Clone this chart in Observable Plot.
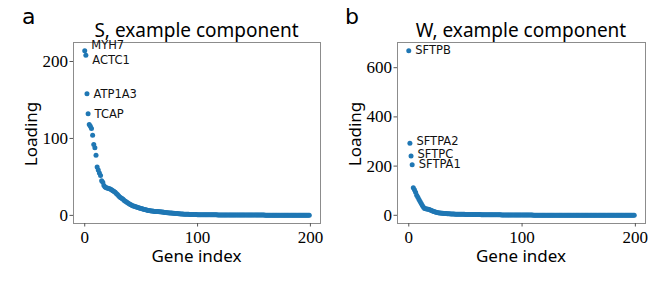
<!DOCTYPE html>
<html>
<head>
<meta charset="utf-8">
<script src="https://cdn.jsdelivr.net/npm/d3@7"></script>
<script src="https://cdn.jsdelivr.net/npm/@observablehq/plot@0.6"></script>
<style>
  body { margin: 0; background: #fff; }
  #wrap { position: relative; width: 669px; height: 287px; overflow: hidden; }
  .abs { position: absolute; white-space: nowrap; color: #000; line-height: 1; }
  .letter { font-family: "DejaVu Sans", sans-serif; font-size: 22px; }
  .title { font-family: "Noto Sans", sans-serif; font-size: 19px; transform: translateX(-50%); }
  .xlab { font-family: "Noto Sans", sans-serif; font-size: 17px; transform: translateX(-50%); }
  .ylab { font-family: "Noto Sans", sans-serif; font-size: 17px; transform: translate(-50%, -50%) rotate(-90deg); }
  svg { position: absolute; top: 0; }
  #wrap svg g[aria-label$="tick label"] text { font-family: "Liberation Serif", serif; font-size: 17px; }
</style>
</head>
<body>
<div id="wrap"></div>
<script>
// ---- data ----
const panelLetters = ["a", "b"];
const panelTitles = ["S, example component", "W, example component"];
const xLabel = "Gene index";
const yLabel = "Loading";
const xTicks = [0, 100, 200];
const yTicksS = [0, 100, 200];
const yTicksW = [0, 200, 400, 600];

const loadingS = [
  214, 208, 158, 132, 118, 116, 113, 104, 92, 88,
  78, 63, 59, 55, 52, 45, 43, 39, 37, 36,
  35.5, 35, 34.5, 34, 33, 32, 31, 30, 28.5, 27,
  25.5, 24, 23, 22, 21, 19.5, 18.5, 17.5, 16.5, 15.5,
  14.5, 13.8, 13, 12.3, 11.8, 11.3, 10.8, 10.3, 9.8, 9.3,
  9, 8.5, 8, 7.6, 7.2, 6.9, 6.5, 6.2, 6, 5.8,
  5.6, 5.4, 5.2, 5.1, 5, 4.9, 4.7, 4.6, 4.5, 4.3,
  4.1, 3.9, 3.7, 3.5, 3.3, 3.2, 3.1, 3.0, 2.9, 2.8,
  2.6, 2.5, 2.3, 2.2, 2.0, 1.9, 1.8, 1.7, 1.6, 1.5,
  1.45, 1.4, 1.35, 1.3, 1.25, 1.2, 1.15, 1.1, 1.05, 1.0,
  0.98, 0.96, 0.94, 0.92, 0.9, 0.88, 0.86, 0.84, 0.82, 0.8,
  0.78, 0.76, 0.74, 0.72, 0.7, 0.69, 0.68, 0.67, 0.66, 0.65,
  0.64, 0.63, 0.62, 0.61, 0.6, 0.59, 0.58, 0.57, 0.56, 0.55,
  0.54, 0.53, 0.52, 0.51, 0.5, 0.49, 0.48, 0.47, 0.46, 0.45,
  0.44, 0.44, 0.43, 0.43, 0.42, 0.42, 0.41, 0.41, 0.4, 0.4,
  0.39, 0.39, 0.38, 0.38, 0.37, 0.37, 0.36, 0.36, 0.35, 0.35,
  0.34, 0.34, 0.33, 0.33, 0.32, 0.32, 0.31, 0.31, 0.3, 0.3,
  0.29, 0.29, 0.28, 0.28, 0.27, 0.27, 0.26, 0.26, 0.25, 0.25,
  0.24, 0.24, 0.23, 0.23, 0.22, 0.22, 0.21, 0.21, 0.2, 0.2,
  0.19, 0.19, 0.18, 0.18, 0.17, 0.17, 0.16, 0.16, 0.15, 0.15
];
const loadingW = [
  669, 293, 241, 206, 112, 104, 94, 82, 73, 64,
  56, 48, 40, 33, 28, 27, 26, 25, 24, 22,
  20, 18, 16, 14, 12.5, 11.5, 10.5, 9.8, 9.2, 8.6,
  8.1, 7.7, 7.3, 7, 6.7, 6.4, 6.1, 5.8, 5.5, 5.2,
  5, 4.8, 4.6, 4.5, 4.4, 4.3, 4.2, 4.1, 4, 3.9,
  3.8, 3.7, 3.6, 3.5, 3.4, 3.3, 3.2, 3.1, 3.05, 3,
  2.95, 2.9, 2.85, 2.8, 2.75, 2.7, 2.65, 2.6, 2.55, 2.5,
  2.45, 2.4, 2.35, 2.3, 2.25, 2.2, 2.15, 2.1, 2.05, 2.0,
  1.9, 1.8, 1.7, 1.65, 1.6, 1.5, 1.45, 1.4, 1.35, 1.3,
  1.25, 1.2, 1.18, 1.15, 1.12, 1.1, 1.08, 1.05, 1.02, 1.0,
  0.97, 0.95, 0.93, 0.9, 0.88, 0.86, 0.84, 0.82, 0.8, 0.78,
  0.76, 0.75, 0.74, 0.72, 0.71, 0.7, 0.69, 0.68, 0.67, 0.66,
  0.65, 0.64, 0.63, 0.62, 0.61, 0.6, 0.59, 0.58, 0.57, 0.56,
  0.55, 0.54, 0.53, 0.52, 0.51, 0.5, 0.49, 0.48, 0.47, 0.46,
  0.45, 0.45, 0.44, 0.44, 0.43, 0.43, 0.42, 0.42, 0.41, 0.41,
  0.4, 0.4, 0.39, 0.39, 0.38, 0.38, 0.37, 0.37, 0.36, 0.36,
  0.35, 0.35, 0.34, 0.34, 0.33, 0.33, 0.32, 0.32, 0.31, 0.31,
  0.3, 0.3, 0.29, 0.29, 0.28, 0.28, 0.27, 0.27, 0.26, 0.26,
  0.25, 0.25, 0.24, 0.24, 0.23, 0.23, 0.22, 0.22, 0.21, 0.21,
  0.2, 0.2, 0.19, 0.19, 0.18, 0.18, 0.17, 0.17, 0.16, 0.16
];
const genesS = ["MYH7", "ACTC1", "ATP1A3", "TCAP"];
const genesW = ["SFTPB", "SFTPA2", "SFTPC", "SFTPA1"];

// ---- drawing ----
const wrap = document.getElementById("wrap");
const blue = "#1f77b4";

function pad(values) {
  const n = values.length - 1;
  const [lo, hi] = d3.extent(values);
  return {x: [-0.05 * n, n * 1.05], y: [lo - 0.05 * (hi - lo), hi + 0.05 * (hi - lo)]};
}

function panel({values, genes, yTicks, left, width, ml, mr, labelDy}) {
  const data = values.map((v, i) => ({i, v}));
  const lab = genes.map((g, k) => ({i: k, v: values[k], g}));
  const dom = pad(values);
  const marks = [
    Plot.frame({stroke: "#8c8c8c", strokeWidth: 1}),
    Plot.axisX({ticks: xTicks, tickSize: 3.5, tickPadding: 4, label: null, stroke: "#555"}),
    Plot.axisY({ticks: yTicks, tickSize: 3.5, tickPadding: 2, label: null, stroke: "#555"}),
    Plot.dot(data, {x: "i", y: "v", r: 2.5, fill: blue, stroke: null})
  ];
  lab.forEach((d, k) => {
    marks.push(Plot.text([d], {x: "i", y: "v", text: "g", textAnchor: "start", dx: 6.5, dy: labelDy[k],
      fontFamily: "DejaVu Sans", fontSize: 11.5, fill: "#111"}));
  });
  const svg = Plot.plot({
    width, height: 287,
    marginLeft: ml, marginRight: mr, marginTop: 42, marginBottom: 64,
    x: {domain: dom.x},
    y: {domain: dom.y},
    style: {background: "transparent", overflow: "visible"},
    marks
  });
  svg.style.left = left + "px";
  wrap.appendChild(svg);
}

panel({values: loadingS, genes: genesS, yTicks: yTicksS, left: 0, width: 335, ml: 73, mr: 15, labelDy: [-5, 5, 0, 0]});
panel({values: loadingW, genes: genesW, yTicks: yTicksW, left: 335, width: 334, ml: 62, mr: 24, labelDy: [0, -1.5, -1.5, 0]});

function addText(cls, txt, x, y) {
  const d = document.createElement("div");
  d.className = "abs " + cls;
  d.textContent = txt;
  d.style.left = x + "px";
  d.style.top = y + "px";
  wrap.appendChild(d);
}
addText("letter", panelLetters[0], 22, 6);
addText("letter", panelLetters[1], 345, 6);
addText("title", panelTitles[0], 196.5, 21);
addText("title", panelTitles[1], 521, 21);
addText("xlab", xLabel, 196.5, 247);
addText("xlab", xLabel, 521, 247);
addText("ylab", yLabel, 30, 134);
addText("ylab", yLabel, 354, 134);
</script>
</body>
</html>
